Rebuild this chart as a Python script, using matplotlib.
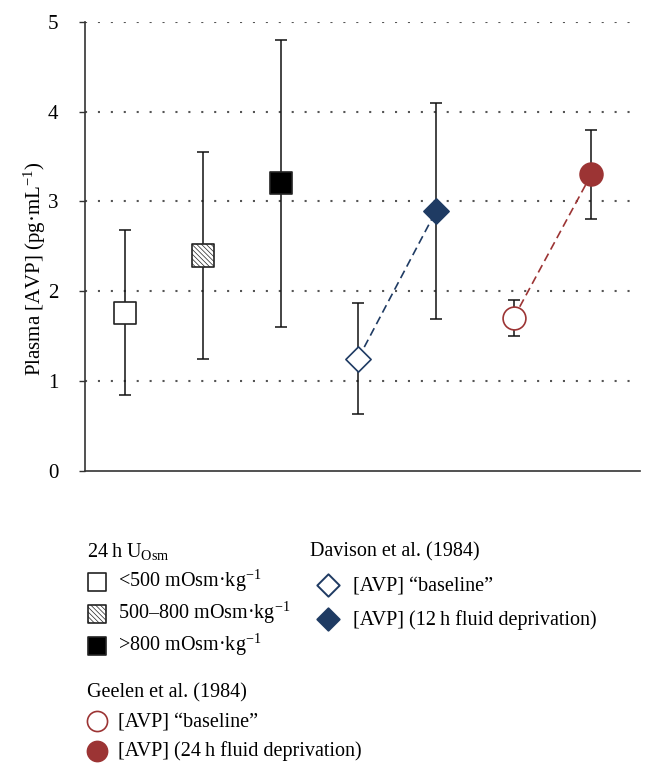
import matplotlib
matplotlib.use("Agg")
import matplotlib.pyplot as plt

plt.rcParams['font.family'] = ['Liberation Serif', 'DejaVu Serif']
plt.rcParams['mathtext.fontset'] = 'custom'
plt.rcParams['mathtext.rm'] = 'Liberation Serif'
plt.rcParams['mathtext.it'] = 'Liberation Serif:italic'
plt.rcParams['hatch.color'] = '#888888'
plt.rcParams['hatch.linewidth'] = 0.5

# 24 h urine osmolality groups
uosm_labels = ["<500 mOsm·kg$^{-1}$", "500–800 mOsm·kg$^{-1}$", ">800 mOsm·kg$^{-1}$"]
uosm_mean = [1.76, 2.40, 3.20]
uosm_low = [0.84, 1.25, 1.60]
uosm_high = [2.68, 3.55, 4.80]

# Davison et al. (1984)
dav_labels = ["[AVP] \u201cbaseline\u201d", "[AVP] (12\u2009h fluid deprivation)"]
dav_mean = [1.25, 2.89]
dav_low = [0.63, 1.69]
dav_high = [1.87, 4.09]

# Geelen et al. (1984)
gee_labels = ["[AVP] \u201cbaseline\u201d", "[AVP] (24\u2009h fluid deprivation)"]
gee_mean = [1.70, 3.30]
gee_low = [1.50, 2.80]
gee_high = [1.90, 3.80]

navy = '#1f3b63'
red = '#9c3434'

fig = plt.figure(figsize=(6.6, 7.77), dpi=100)
ax = fig.add_axes([0.129, 0.394, 0.841, 0.578])

pos_u = [1, 2, 3]
pos_d = [4, 5]
pos_g = [6, 7]

def errs(m, lo, hi):
    return [[a - b for a, b in zip(m, lo)], [c - a for a, c in zip(m, hi)]]

for p, m, lo, hi in [(pos_u, uosm_mean, uosm_low, uosm_high),
                     (pos_d, dav_mean, dav_low, dav_high),
                     (pos_g, gee_mean, gee_low, gee_high)]:
    ax.errorbar(p, m, yerr=errs(m, lo, hi), fmt='none', ecolor='#111111',
                elinewidth=1.1, capsize=4, capthick=1.1, zorder=2)

ax.plot(pos_d, dav_mean, ls=(0, (5, 2.8)), color=navy, lw=1.2, zorder=3)
ax.plot(pos_g, gee_mean, ls=(0, (5, 2.8)), color=red, lw=1.2, zorder=3)

faces = ['white', 'white', 'black']
hatches = [None, '\\\\\\\\\\\\\\', None]
for i in range(3):
    ax.scatter([pos_u[i]], [uosm_mean[i]], marker='s', s=265, facecolor=faces[i],
               edgecolor='#222222', linewidth=1.2, hatch=hatches[i], zorder=4)

ax.scatter([pos_d[0]], [dav_mean[0]], marker='D', s=165, facecolor='white',
           edgecolor=navy, linewidth=1.2, zorder=4)
ax.scatter([pos_d[1]], [dav_mean[1]], marker='D', s=165, facecolor=navy,
           edgecolor=navy, linewidth=1.2, zorder=4)
ax.scatter([pos_g[0]], [gee_mean[0]], marker='o', s=270, facecolor='white',
           edgecolor=red, linewidth=1.2, zorder=4)
ax.scatter([pos_g[1]], [gee_mean[1]], marker='o', s=270, facecolor=red,
           edgecolor=red, linewidth=1.2, zorder=4)

ax.set_xlim(0.485, 7.63)
ax.set_ylim(0, 5)
ax.set_yticks([0, 1, 2, 3, 4, 5])
ax.set_xticks([])
for y in [1, 2, 3, 4, 5]:
    ax.axhline(y, color='#555555', lw=1.5, ls=(0, (1, 5.2)), zorder=1)
ax.spines['top'].set_visible(False)
ax.spines['right'].set_visible(False)
ax.spines['left'].set_color('#333333')
ax.spines['bottom'].set_color('#333333')
ax.spines['left'].set_linewidth(1.2)
ax.spines['bottom'].set_linewidth(1.2)
ax.tick_params(axis='y', labelsize=15, length=4.3, width=1.0, color='#333333', pad=15)
ax.set_ylabel("Plasma [AVP] (pg·mL$^{-1}$)", fontsize=15)
ax.yaxis.set_label_coords(-0.067, 0.45)

# legend proxies (not drawn in the axes)
h_u = [ax.scatter([], [], marker='s', s=175, facecolor=faces[i], edgecolor='#222222',
                  linewidth=1.2, hatch=hatches[i], label=uosm_labels[i]) for i in range(3)]
h_d = [ax.scatter([], [], marker='D', s=130, facecolor='white', edgecolor=navy,
                  linewidth=1.4, label=dav_labels[0]),
       ax.scatter([], [], marker='D', s=130, facecolor=navy, edgecolor=navy,
                  linewidth=1.4, label=dav_labels[1])]
h_g = [ax.scatter([], [], marker='o', s=210, facecolor='white', edgecolor=red,
                  linewidth=1.2, label=gee_labels[0]),
       ax.scatter([], [], marker='o', s=210, facecolor=red, edgecolor=red,
                  linewidth=1.2, label=gee_labels[1])]

leg_kw = dict(frameon=False, fontsize=14.5, title_fontsize=14.5, alignment='left',
              borderpad=0, scatterpoints=1)
fig.legend(handles=h_u, title="24\u2009h U$_{\\mathrm{Osm}}$", loc='upper left',
           bbox_to_anchor=(0.116, 0.317), handletextpad=0.55, labelspacing=0.3,
           handlelength=1.0, **leg_kw)
fig.legend(handles=h_d, title="Davison et al. (1984)", loc='upper left',
           bbox_to_anchor=(0.455, 0.315), handletextpad=0.3, labelspacing=0.72,
           handlelength=1.8, **leg_kw)
fig.legend(handles=h_g, title="Geelen et al. (1984)", loc='upper left',
           bbox_to_anchor=(0.116, 0.134), handletextpad=0.55, labelspacing=0.5,
           handlelength=1.0, **leg_kw)

fig.savefig("out.png", dpi=100)
